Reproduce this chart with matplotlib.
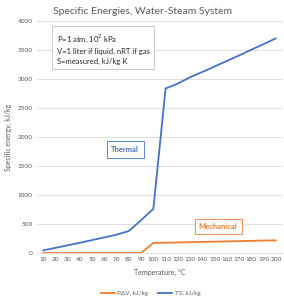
import matplotlib.pyplot as plt
from matplotlib.lines import Line2D

plt.rcParams['font.family'] = ['Lato', 'DejaVu Sans']

temps = [10, 20, 30, 40, 50, 60, 70, 80, 90, 100,
         110, 120, 130, 140, 150, 160, 170, 180, 190, 200]
pdv = [0, 0, 0, 0, 0, 0, 0, 0, 0, 172,
       177, 181, 186, 191, 195, 200, 204, 209, 214, 218]
ts = [45, 87, 132, 175, 222, 268, 315, 378, 565, 760,
      2835, 2920, 3030, 3120, 3215, 3310, 3405, 3505, 3600, 3700]

orange = '#ED7D31'
blue = '#4472C4'
grey = '#595959'

fig = plt.figure(figsize=(2.84, 2.99), dpi=100)
ax = fig.add_axes([0.130, 0.154, 0.863, 0.776])

x = range(len(temps))
ax.plot(x, pdv, color=orange, lw=1.3, solid_capstyle='round')
ax.plot(x, ts, color=blue, lw=1.3, solid_capstyle='round')

ax.set_xlim(-0.5, len(temps) - 0.5)
ax.set_ylim(0, 4000)
ax.set_xticks(list(x))
ax.set_xticklabels([str(t) for t in temps])
ax.set_yticks(range(0, 4001, 500))
ax.tick_params(length=0, labelsize=4.6, colors=grey, pad=3)
ax.grid(axis='y', color='#d9d9d9', lw=0.6)
ax.set_axisbelow(True)
for side in ['top', 'right', 'left']:
    ax.spines[side].set_visible(False)
ax.spines['bottom'].set_color('#d9d9d9')
ax.spines['bottom'].set_linewidth(0.6)

ax.set_xlabel('Temperature, °C', fontsize=5, color=grey, labelpad=5)
ax.set_ylabel('Specific energy, kJ/kg', fontsize=5, color=grey, labelpad=4)
fig.text(0.503, 0.975, 'Specific Energies, Water-Steam System', ha='center', va='top',
         fontsize=7.5, color=grey)

fig.text(0.199, 0.893, 'P=1 atm, 10$^{2}$ kPa\nV=1 liter if liquid, nRT if gas\nS=measured, kJ/kg K',
         ha='left', va='top', fontsize=5.5, color='#262626', linespacing=1.5,
         bbox=dict(boxstyle='square,pad=0.55', fc='white', ec='#bfbfbf', lw=0.6))
fig.text(0.441, 0.500, 'Thermal', ha='center', va='center', fontsize=5.5,
         color=blue, fontweight='bold',
         bbox=dict(boxstyle='square,pad=0.6', fc='white', ec=blue, lw=0.6))
fig.text(0.768, 0.242, 'Mechanical', ha='center', va='center', fontsize=5.5,
         color=orange, fontweight='bold',
         bbox=dict(boxstyle='square,pad=0.55', fc='white', ec=orange, lw=0.6))

handles = [Line2D([], [], color=orange, lw=1.3), Line2D([], [], color=blue, lw=1.3)]
fig.legend(handles, ['PΔV, kJ/kg', 'TS, kJ/kg'], loc='center', bbox_to_anchor=(0.53, 0.02),
           ncol=2, frameon=False, fontsize=4.6, labelcolor=grey, handlelength=2.2,
           columnspacing=1.5, handletextpad=0.4)

fig.savefig('out.png', dpi=100)
